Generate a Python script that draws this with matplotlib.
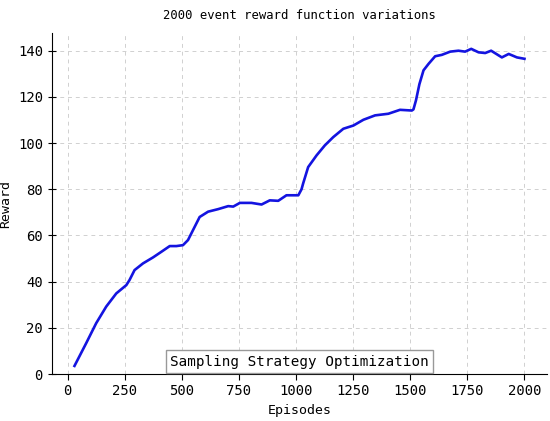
import matplotlib
matplotlib.use("Agg")
import matplotlib.pyplot as plt

plt.rcParams['font.family'] = ['DejaVu Sans Mono']

# episodes / smoothed reward
episodes = [30, 81, 125, 169, 213, 257, 271, 293, 330, 374, 410, 447, 476,
            505, 527, 556, 578, 615, 659, 703, 725, 754, 805, 849, 885, 922,
            958, 1010, 1024, 1031, 1053, 1090, 1126, 1163, 1207, 1251, 1295,
            1346, 1404, 1455, 1507, 1514, 1525, 1540, 1558, 1580, 1609,
            1638, 1675, 1711, 1740, 1767, 1799, 1828, 1854, 1901, 1931, 1967,
            2000]
reward = [3.5, 13.3, 22.0, 29.2, 34.9, 38.5, 40.7, 45.0, 47.9, 50.5, 52.9,
          55.4, 55.4, 55.8, 58.0, 63.7, 68.0, 70.3, 71.4, 72.7, 72.5, 74.1, 74.1,
          73.4, 75.2, 75.0, 77.4, 77.4, 80.0, 82.5, 89.6, 94.7, 99.0, 102.6,
          106.2, 107.6, 110.1, 112.0, 112.7, 114.4, 114.1, 114.6, 118.5, 125.5,
          131.5, 134.3, 137.6, 138.2, 139.6, 140.0, 139.6, 140.8, 139.3,
          139.0, 140.0, 137.1, 138.6, 137.1, 136.5]

fig = plt.figure(figsize=(5.5, 4.21), dpi=100)
ax = fig.add_axes([0.0945, 0.1116, 0.9, 0.81])

ax.plot(episodes, reward, color='#1414e0', linewidth=1.9)

ax.set_ylim(bottom=0)
ax.set_xticks([0, 250, 500, 750, 1000, 1250, 1500, 1750, 2000])
ax.set_yticks([0, 20, 40, 60, 80, 100, 120, 140])
ax.grid(True, linestyle=(0, (4, 4)), color='#d0d0d0', linewidth=0.7)
ax.spines['top'].set_visible(False)
ax.spines['right'].set_visible(False)
ax.tick_params(axis='y', direction='inout', length=6, labelsize=10)
ax.tick_params(axis='x', direction='out', length=4, labelsize=10)

ax.set_title("2000 event reward function variations", fontsize=8.8, pad=10)
ax.set_xlabel("Episodes", fontsize=9.5)
ax.set_ylabel("Reward", fontsize=9.5)

ax.text(0.5, 0.036, "Sampling Strategy Optimization", transform=ax.transAxes,
        ha='center', va='center', fontsize=10.3,
        bbox=dict(boxstyle='square,pad=0.3', facecolor='white', edgecolor='#999999'))

fig.savefig("out.png", dpi=100)
